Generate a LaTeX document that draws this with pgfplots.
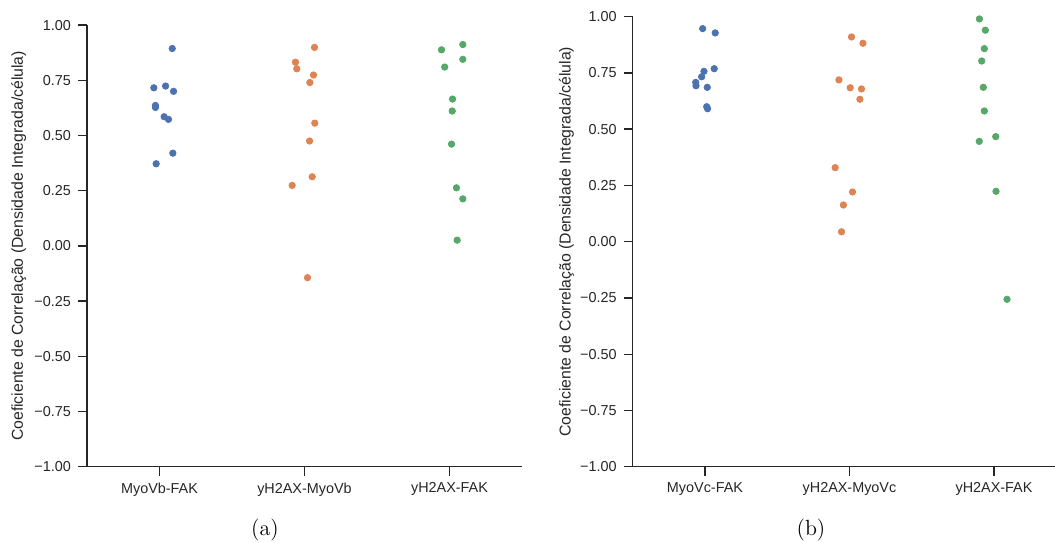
\documentclass[border=0pt]{standalone}
\usepackage{fontspec}
\newfontfamily\plotfont{Liberation Sans}
\usepackage{pgfplots}
\pgfplotsset{compat=1.18}

\definecolor{sbblue}{HTML}{4C72B0}
\definecolor{sborange}{HTML}{DD8452}
\definecolor{sbgreen}{HTML}{55A868}
\definecolor{sbtext}{HTML}{262626}

\pgfplotsset{
  stripstyle/.style={
    scale only axis,
    xmin=-0.5, ymin=-1, ymax=1,
    axis x line*=bottom, axis y line*=left,
    axis line style={-, line width=0.7pt, color=sbtext},
    tick align=outside, major tick length=4.5pt,
    tick style={line width=0.7pt, color=sbtext},
    ytick={-1,-0.75,-0.5,-0.25,0,0.25,0.5,0.75,1},
    yticklabels={−1.00,−0.75,−0.50,−0.25,0.00,0.25,0.50,0.75,1.00},
    xtick={0,1,2},
    ticklabel style={font=\plotfont\fontsize{7.2}{8.6}\selectfont, text=sbtext},
    ylabel={Coeficiente de Correlação (Densidade Integrada/célula)},
    every axis y label/.style={at={(axis description cs:-0.157,0.5)}, rotate=90, anchor=center,
      font=\plotfont\fontsize{7.9}{9.4}\selectfont, text=sbtext},
  },
  dots/.style={only marks, mark=*, mark size=1.6pt, line width=0.4pt, color=#1},
}

\begin{document}
\begin{tikzpicture}
\useasboundingbox (0pt,0pt) rectangle (527.5pt,271pt);

% (a)
\begin{axis}[stripstyle, at={(43.5pt,37.65pt)}, anchor=south west,
    width=217.5pt, height=220.8pt, xmax=2.5,
    xticklabels={MyoVb-FAK,yH2AX-MyoVb,yH2AX-FAK}]
\addplot[dots=sbblue] coordinates {
 (0.088,0.894) (-0.039,0.716) (0.042,0.724) (0.097,0.700) (-0.028,0.636)
 (-0.028,0.627) (0.032,0.585) (0.062,0.573) (0.092,0.420) (-0.023,0.372)};
\addplot[dots=sborange] coordinates {
 (1.069,0.899) (0.938,0.832) (0.947,0.802) (1.062,0.774) (1.037,0.740)
 (1.071,0.556) (1.035,0.475) (1.053,0.313) (0.915,0.274) (1.021,-0.144)};
\addplot[dots=sbgreen] coordinates {
 (2.092,0.912) (1.945,0.888) (2.092,0.845) (1.967,0.810) (2.021,0.665)
 (2.019,0.611) (2.014,0.461) (2.048,0.263) (2.092,0.213) (2.053,0.026)};
\end{axis}

% (b)
\begin{axis}[stripstyle, at={(316.35pt,37.65pt)}, anchor=south west,
    width=211pt, height=225pt, xmax=2.42,
    xticklabels={MyoVc-FAK,yH2AX-MyoVc,yH2AX-FAK}]
\addplot[dots=sbblue] coordinates {
 (-0.016,0.947) (0.071,0.928) (0.064,0.769) (-0.007,0.757) (-0.023,0.733)
 (-0.064,0.708) (-0.062,0.693) (0.016,0.686) (0.018,0.591) (0.012,0.600)};
\addplot[dots=sborange] coordinates {
 (1.014,0.910) (1.093,0.882) (0.927,0.719) (1.005,0.684) (1.083,0.679)
 (1.072,0.633) (0.901,0.329) (1.021,0.221) (0.958,0.163) (0.945,0.044)};
\addplot[dots=sbgreen] coordinates {
 (1.899,0.990) (1.940,0.940) (1.933,0.858) (1.915,0.803) (1.926,0.686)
 (1.933,0.581) (2.012,0.467) (1.898,0.446) (2.014,0.224) (2.090,-0.256)};
\end{axis}

\node[font=\fontsize{11}{13}\selectfont] at (132.5pt,6pt) {(a)};
\node[font=\fontsize{11}{13}\selectfont] at (405.5pt,6pt) {(b)};
\end{tikzpicture}
\end{document}
